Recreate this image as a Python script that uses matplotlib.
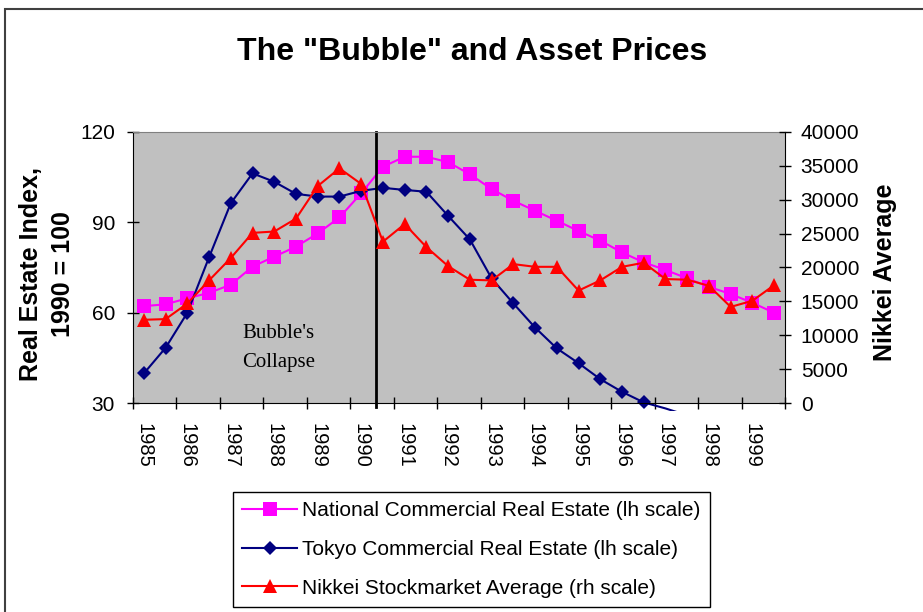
import numpy as np
import matplotlib
matplotlib.use('Agg')
from matplotlib import pyplot as plt
from matplotlib.patches import Rectangle

plt.rcParams['font.family'] = ['Liberation Sans', 'DejaVu Sans']

# 반기별 데이터 (1985 ~ 1999, 연 2개)
years = ['1985', '1986', '1987', '1988', '1989', '1990', '1991', '1992',
         '1993', '1994', '1995', '1996', '1997', '1998', '1999']

national = [62.2, 62.8, 64.8, 66.6, 69.3, 75.3, 78.6, 81.9, 86.3, 91.6,
            99.6, 108.4, 111.7, 111.7, 109.9, 105.9, 101.0, 97.1, 93.8, 90.5,
            87.1, 83.9, 80.0, 76.7, 74.2, 71.4, 68.6, 66.2, 63.3, 60.0]

tokyo = [39.9, 48.4, 60.0, 78.4, 96.3, 106.2, 103.4, 99.4, 98.5, 98.5,
         100.4, 101.4, 100.7, 100.1, 92.1, 84.3, 71.4, 63.1, 55.1, 48.2,
         43.3, 38.0, 33.8, 30.3, 28.3, 26.0, np.nan, np.nan, np.nan, np.nan]

nikkei = [12300, 12400, 14700, 18100, 21400, 25100, 25300, 27200, 32000, 34600,
          32300, 23800, 26400, 23000, 20200, 18200, 18100, 20500, 20100, 20100,
          16600, 18100, 20100, 20700, 18300, 18200, 17300, 14200, 15100, 17400]

labels = ['National Commercial Real Estate (lh scale)',
          'Tokyo Commercial Real Estate (lh scale)',
          'Nikkei Stockmarket Average (rh scale)']

x = np.arange(len(national))

fig = plt.figure(figsize=(9.23, 6.12), dpi=100)
ax = fig.add_axes([133 / 923, 1 - 403.3 / 612, (785 - 133) / 923, (403.3 - 131.7) / 612])
ax.set_facecolor('#c0c0c0')
ax2 = ax.twinx()

ln_n, = ax.plot(x, national, color='#ff00ff', lw=1.5, marker='s', ms=9.5,
                markeredgewidth=0)
ln_t, = ax.plot(x, tokyo, color='#000080', lw=1.5, marker='D', ms=7.5,
                markeredgewidth=0, markevery=list(range(24)))
# 엑셀처럼 축 아래로 살짝 튀어나오게
clip = Rectangle((0, -0.028), 1, 1.028, transform=ax.transAxes)
ln_t.set_clip_path(clip)

ln_k, = ax2.plot(x, nikkei, color='#ff0000', lw=1.5, marker='^', ms=10.5,
                 markeredgewidth=0)

ax.axvline(10.68, ymin=-0.012, ymax=1, color='black', lw=2, clip_on=False)

ax.set_xlim(-0.5, 29.5)
ax.set_ylim(30, 120)
ax.set_yticks([30, 60, 90, 120])
ax2.set_ylim(0, 40000)
ax2.set_yticks(np.arange(0, 40001, 5000))

ax.set_xticks(x[::2])
ax.set_xticklabels(years, rotation=270, fontsize=14.5)
ax.set_xticks(np.arange(-0.5, 30, 2), minor=True)
ax.tick_params(axis='x', which='major', length=0, pad=14)
ax.tick_params(axis='x', which='minor', direction='inout', length=8, width=1)
ax.tick_params(axis='y', direction='inout', length=8, width=1, pad=9, labelsize=15)
ax2.tick_params(axis='y', direction='inout', length=8, width=1, pad=7.3, labelsize=15)

for s in ['left', 'bottom']:
    ax.spines[s].set_color('black')
ax.spines['top'].set_color('#808080')
ax.spines['right'].set_visible(False)
for s in ['left', 'bottom', 'top']:
    ax2.spines[s].set_visible(False)

ax.text(0.168, 0.204, "Bubble's\nCollapse", transform=ax.transAxes,
        family=['Liberation Serif', 'DejaVu Serif'], fontsize=15, ha='left', va='center',
        linespacing=1.73)

fig.text(472 / 923, 1 - 52 / 612, 'The "Bubble" and Asset Prices', fontsize=23,
         fontweight='bold', ha='center', va='center')
fig.text(47 / 923, 1 - 274 / 612, 'Real Estate Index,\n1990 = 100', fontsize=18,
         fontweight='bold', rotation=90, ha='center', va='center', multialignment='center',
         linespacing=1.41)
fig.text(885 / 923, 1 - 272 / 612, 'Nikkei Average', fontsize=18,
         fontweight='bold', rotation=90, ha='center', va='center')

leg = fig.legend([ln_n, ln_t, ln_k], labels, loc='upper left',
                 bbox_to_anchor=(232.7 / 923, 1 - 491.7 / 612), fontsize=15,
                 frameon=True, fancybox=False, edgecolor='black', framealpha=1,
                 handlelength=2.64, handletextpad=0.25, labelspacing=0.95,
                 borderpad=0.45, borderaxespad=0)
leg.get_frame().set_linewidth(1)

# 그림 테두리
fig.patches.append(Rectangle((5 / 923, -0.05), 1.2, 1 - 9 / 612 + 0.05,
                             transform=fig.transFigure, fill=False,
                             edgecolor='#404040', lw=1.5))

fig.savefig('out.png', dpi=100)
